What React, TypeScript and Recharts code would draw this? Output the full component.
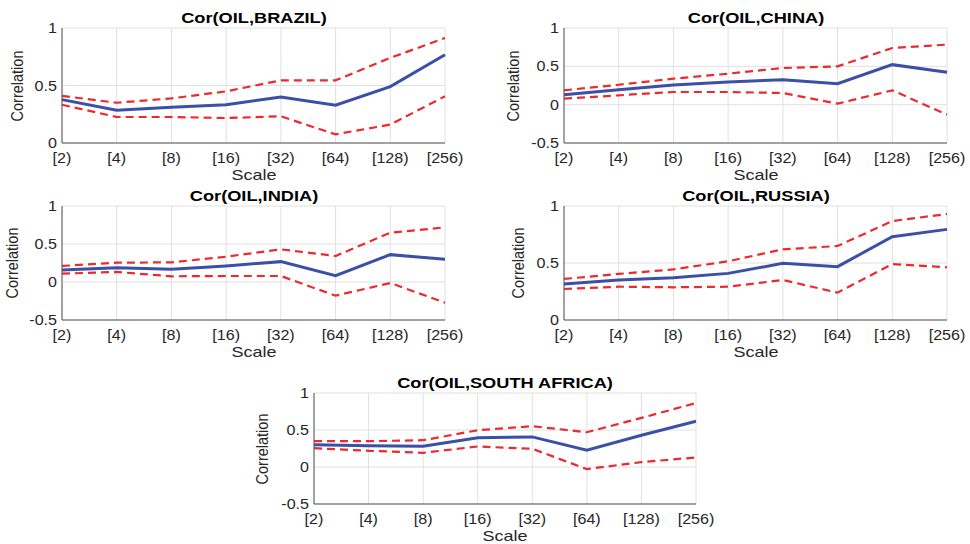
import { CartesianGrid, Line, LineChart, XAxis, YAxis } from 'recharts';

const scales = ['[2)', '[4)', '[8)', '[16)', '[32)', '[64)', '[128)', '[256)'];

const brazilMean = [0.377, 0.284, 0.31, 0.333, 0.4, 0.328, 0.49, 0.768];
const brazilUpper = [0.41, 0.35, 0.388, 0.449, 0.545, 0.545, 0.74, 0.913];
const brazilLower = [0.333, 0.226, 0.226, 0.217, 0.232, 0.075, 0.16, 0.406];

const chinaMean = [0.13, 0.196, 0.257, 0.296, 0.326, 0.274, 0.522, 0.422];
const chinaUpper = [0.187, 0.26, 0.339, 0.404, 0.478, 0.5, 0.739, 0.783];
const chinaLower = [0.078, 0.122, 0.165, 0.165, 0.152, 0.013, 0.187, -0.13];

const indiaMean = [0.158, 0.189, 0.167, 0.211, 0.268, 0.083, 0.36, 0.298];
const indiaUpper = [0.211, 0.254, 0.259, 0.333, 0.43, 0.342, 0.649, 0.719];
const indiaLower = [0.11, 0.132, 0.075, 0.079, 0.079, -0.18, -0.013, -0.272];

const russiaMean = [0.316, 0.351, 0.371, 0.409, 0.497, 0.468, 0.731, 0.795];
const russiaUpper = [0.36, 0.404, 0.444, 0.515, 0.62, 0.649, 0.868, 0.93];
const russiaLower = [0.272, 0.292, 0.287, 0.292, 0.351, 0.24, 0.491, 0.462];

const safricaMean = [0.3, 0.286, 0.281, 0.394, 0.407, 0.228, 0.43, 0.618];
const safricaUpper = [0.349, 0.349, 0.362, 0.497, 0.551, 0.47, 0.663, 0.865];
const safricaLower = [0.254, 0.219, 0.192, 0.277, 0.246, -0.028, 0.066, 0.129];

const ticksPos = [0, 0.5, 1];
const ticksFull = [-0.5, 0, 0.5, 1];

const FONT = '"Liberation Sans", Arial, Helvetica, sans-serif';
const TEXT = '#262626';
const BOX = '#555555';
const GRID = '#e0e0e0';
const BLUE = '#3b4fa6';
const RED = '#ec2a2e';

// space around each plot area inside its own chart box
const L = 70;
const T = 30;
const R = 30;
const B = 45;

type PanelProps = {
  title: string;
  mean: number[];
  upper: number[];
  lower: number[];
  ticks: number[];
  left: number;
  top: number;
  width: number;
  height: number;
  labelGap: number;
};

const XTick = (props: any) => {
  const { x, y, payload } = props;
  return (
    <text
      transform={`translate(${x},${y + 15}) scale(1.15,1)`}
      textAnchor="middle"
      dominantBaseline="central"
      fontSize={14}
      fontFamily={FONT}
      fill={TEXT}
    >
      {payload.value}
    </text>
  );
};

const YTick = (props: any) => {
  const { x, y, payload } = props;
  return (
    <text
      transform={`translate(${x - 5},${y}) scale(1.15,1)`}
      textAnchor="end"
      dominantBaseline="central"
      fontSize={14}
      fontFamily={FONT}
      fill={TEXT}
    >
      {payload.value}
    </text>
  );
};

function Panel({ title, mean, upper, lower, ticks, left, top, width, height, labelGap }: PanelProps) {
  const data = scales.map((s, i) => ({ scale: s, mean: mean[i], upper: upper[i], lower: lower[i] }));
  const domain: [number, number] = [ticks[0], ticks[ticks.length - 1]];
  const cx = L + width / 2;

  return (
    <div style={{ position: 'absolute', left: left - L, top: top - T, width: L + width + R, height: T + height + B }}>
      <LineChart
        width={L + width + R}
        height={T + height + B}
        data={data}
        margin={{ top: T, left: L - 40, right: R, bottom: B - 30 }}
      >
        <CartesianGrid stroke={GRID} strokeWidth={1} />
        <XAxis
          dataKey="scale"
          height={30}
          tickLine={false}
          tickSize={0}
          tickMargin={0}
          interval={0}
          axisLine={{ stroke: BOX }}
          tick={<XTick />}
        />
        <XAxis xAxisId="top" dataKey="scale" orientation="top" height={0} tick={false} tickLine={false} axisLine={{ stroke: BOX }} />
        <YAxis
          type="number"
          domain={domain}
          ticks={ticks}
          width={40}
          tickLine={false}
          tickSize={0}
          tickMargin={0}
          axisLine={{ stroke: BOX }}
          tick={<YTick />}
        />
        <YAxis yAxisId="right" orientation="right" type="number" domain={domain} width={0} tick={false} tickLine={false} axisLine={{ stroke: BOX }} />
        <Line dataKey="upper" stroke={RED} strokeWidth={2.2} strokeDasharray="8 5" dot={false} isAnimationActive={false} />
        <Line dataKey="lower" stroke={RED} strokeWidth={2.2} strokeDasharray="8 5" dot={false} isAnimationActive={false} />
        <Line dataKey="mean" stroke={BLUE} strokeWidth={3} dot={false} isAnimationActive={false} />
      </LineChart>
      <div
        style={{
          position: 'absolute',
          left: cx,
          top: T - 10,
          transform: 'translate(-50%, -50%) scaleX(1.3)',
          fontFamily: FONT,
          fontWeight: 'bold',
          fontSize: 14,
          color: '#000',
          whiteSpace: 'nowrap',
        }}
      >
        {title}
      </div>
      <div
        style={{
          position: 'absolute',
          left: cx,
          top: T + height + 31,
          transform: 'translate(-50%, -50%) scaleX(1.2)',
          fontFamily: FONT,
          fontSize: 15,
          color: TEXT,
          whiteSpace: 'nowrap',
        }}
      >
        Scale
      </div>
      <div
        style={{
          position: 'absolute',
          left: L - labelGap,
          top: T + height / 2,
          transform: 'translate(-50%, -50%) scaleX(1.2) rotate(-90deg)',
          fontFamily: FONT,
          fontSize: 14.5,
          color: TEXT,
          whiteSpace: 'nowrap',
        }}
      >
        Correlation
      </div>
    </div>
  );
}

export default function App() {
  return (
    <div style={{ position: 'absolute', left: 0, top: 0, width: 970, height: 544, background: '#fff', overflow: 'hidden' }}>
      <Panel title="Cor(OIL,BRAZIL)" mean={brazilMean} upper={brazilUpper} lower={brazilLower} ticks={ticksPos}
        left={62} top={28} width={383} height={115} labelGap={45} />
      <Panel title="Cor(OIL,CHINA)" mean={chinaMean} upper={chinaUpper} lower={chinaLower} ticks={ticksFull}
        left={564} top={28} width={383} height={115} labelGap={51} />
      <Panel title="Cor(OIL,INDIA)" mean={indiaMean} upper={indiaUpper} lower={indiaLower} ticks={ticksFull}
        left={62} top={206} width={383} height={114} labelGap={50} />
      <Panel title="Cor(OIL,RUSSIA)" mean={russiaMean} upper={russiaUpper} lower={russiaLower} ticks={ticksPos}
        left={564} top={206} width={383} height={114} labelGap={46} />
      <Panel title="Cor(OIL,SOUTH AFRICA)" mean={safricaMean} upper={safricaUpper} lower={safricaLower} ticks={ticksFull}
        left={314} top={393} width={382} height={111} labelGap={52} />
    </div>
  );
}
